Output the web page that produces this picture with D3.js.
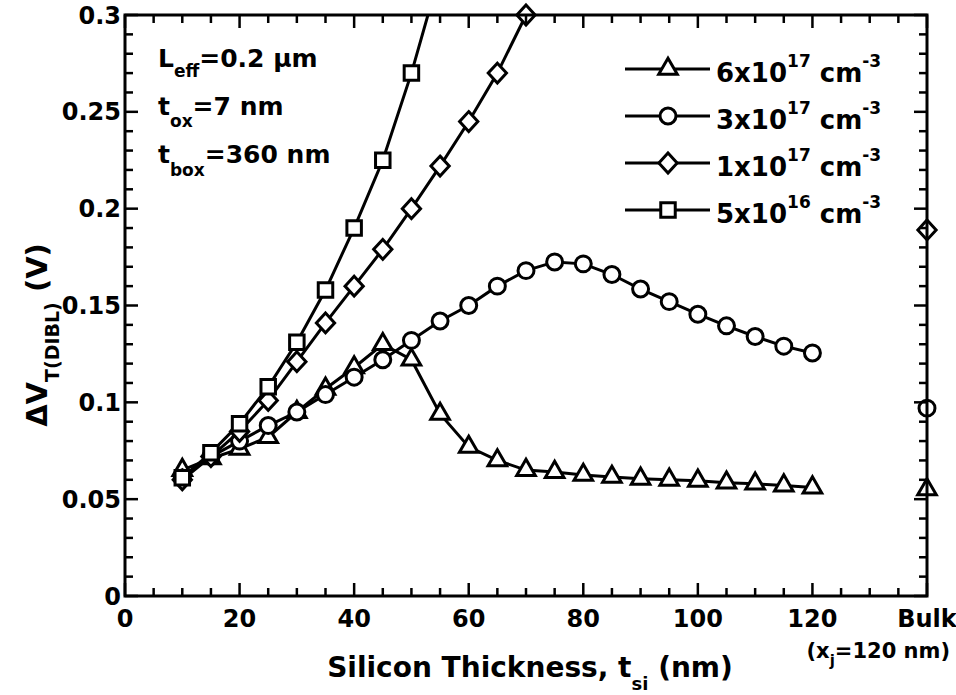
<!DOCTYPE html>
<html><head><meta charset="utf-8">
<script src="https://cdn.jsdelivr.net/npm/d3@7"></script>
<style>
body{margin:0;background:#fff}
svg{display:block}
text{font-family:"DejaVu Sans",sans-serif;font-weight:bold;fill:#000}
</style>
</head><body>
<svg id="c" width="956" height="695"></svg>
<script>
// ---- data ----
const thickness = [10,15,20,25,30,35,40,45,50,55,60,65,70,75,80,85,90,95,100,105,110,115,120];
const dope6e17 = [0.065,0.071,0.076,0.082,0.095,0.107,0.118,0.130,0.122,0.094,0.077,0.070,0.065,0.064,0.0625,0.0615,0.0605,0.060,0.0595,0.0585,0.058,0.057,0.056];
const dope3e17 = [0.061,0.072,0.080,0.088,0.095,0.104,0.113,0.122,0.132,0.142,0.150,0.160,0.168,0.1725,0.1715,0.166,0.1585,0.152,0.1455,0.1395,0.134,0.129,0.1255];
const thickness1e17 = [10,15,20,25,30,35,40,45,50,55,60,65,70];
const dope1e17 = [0.060,0.072,0.085,0.101,0.121,0.141,0.160,0.179,0.200,0.222,0.245,0.270,0.300];
const thickness5e16 = [10,15,20,25,30,35,40,45,50,55];
const dope5e16 = [0.061,0.074,0.089,0.108,0.131,0.158,0.190,0.225,0.270,0.322];
const bulkPosition = 140;
const bulkValues = {tri:0.055, circ:0.097, diam:0.189};
const xTickValues = [0,20,40,60,80,100,120,140];
const xTickLabels = ["0","20","40","60","80","100","120","Bulk"];
const yTickValues = [0,0.05,0.1,0.15,0.2,0.25,0.3];
const yTickLabels = ["0","0.05","0.1","0.15","0.2","0.25","0.3"];
const legendLabels = [["6x10","17"],["3x10","17"],["1x10","17"],["5x10","16"]];

// ---- layout ----
const L=125, R=927, T=15, B=596;
const svg = d3.select("#c");
const x = d3.scaleLinear().domain([0,140]).range([L,R]);
const y = d3.scaleLinear().domain([0,0.3]).range([B,T]);

const minorX = d3.range(5,140,5).filter(v=>v%20!==0);
const minorY = d3.range(1,30,1).filter(v=>v%5!==0).map(v=>v/100);

// clip path kept inside <defs>
svg.append("defs").append("clipPath").attr("id","clip")
  .append("rect").attr("x",L).attr("y",T).attr("width",R-L).attr("height",B-T);

// ---- series ----
const line = d3.line().x(d=>x(d[0])).y(d=>y(d[1]));
const wideDiamond = {draw(ctx,size){const h=Math.sqrt(size)*0.72, w=h*0.92; ctx.moveTo(0,-h);ctx.lineTo(w,0);ctx.lineTo(0,h);ctx.lineTo(-w,0);ctx.closePath();}};
const shapes = {
  tri: d3.symbol().type(d3.symbolTriangle).size(150),
  circ: d3.symbol().type(d3.symbolCircle).size(200),
  diam: d3.symbol().type(wideDiamond).size(190),
  sq: d3.symbol().type(d3.symbolSquare).size(210)
};
const series = [
  {key:"tri", xs:thickness, ys:dope6e17},
  {key:"circ", xs:thickness, ys:dope3e17},
  {key:"diam", xs:thickness1e17, ys:dope1e17},
  {key:"sq", xs:thickness5e16, ys:dope5e16}
];
series.forEach(s=>{
  const pts = s.xs.map((v,i)=>[v,s.ys[i]]);
  svg.append("path").datum(pts).attr("d",line).attr("clip-path","url(#clip)")
    .attr("fill","none").attr("stroke","#000").attr("stroke-width",3);
  svg.append("g").selectAll("path").data(pts.filter(d=>d[1]<=0.3)).join("path")
    .attr("transform",d=>`translate(${x(d[0])},${y(d[1])})`)
    .attr("d",shapes[s.key]()).attr("fill","#fff").attr("stroke","#000").attr("stroke-width",3);
});

// ---- axes: frame, ticks (inward on all four sides), labels ----
svg.append("path").attr("d",`M${L},${T}H${R}V${B}H${L}Z`)
  .attr("fill","none").attr("stroke","#000").attr("stroke-width",3);
function tickSet(vals, len, horiz){
  const g = svg.append("g");
  g.selectAll("line.a").data(vals).join("line").attr("class","a")
    .attr("x1",d=>horiz?x(d):L).attr("x2",d=>horiz?x(d):L+len)
    .attr("y1",d=>horiz?B:y(d)).attr("y2",d=>horiz?B-len:y(d))
    .attr("stroke","#000").attr("stroke-width",2.5);
  g.selectAll("line.b").data(vals).join("line").attr("class","b")
    .attr("x1",d=>horiz?x(d):R).attr("x2",d=>horiz?x(d):R-len)
    .attr("y1",d=>horiz?T:y(d)).attr("y2",d=>horiz?T+len:y(d))
    .attr("stroke","#000").attr("stroke-width",2.5);
}
tickSet(xTickValues,13,true); tickSet(minorX,8,true);
tickSet(yTickValues,13,false); tickSet(minorY,8,false);

svg.append("g").selectAll("text").data(xTickValues).join("text")
  .attr("x",d=>x(d)).attr("y",B+31).attr("text-anchor","middle").style("font-size","24px")
  .text((d,i)=>xTickLabels[i]);
svg.append("g").selectAll("text").data(yTickValues).join("text")
  .attr("x",L-4).attr("y",d=>y(d)).attr("dy","0.36em").attr("text-anchor","end").style("font-size","24px")
  .text((d,i)=>yTickLabels[i]);

// bulk points (drawn over the right axis)
Object.entries(bulkValues).forEach(([k,v])=>{
  svg.append("path").attr("transform",`translate(${x(bulkPosition)},${y(v)})`)
    .attr("d",shapes[k]()).attr("fill","none").attr("stroke","#000").attr("stroke-width",3);
});

// ---- legend ----
const legKeys = ["tri","circ","diam","sq"];
legKeys.forEach((k,i)=>{
  const ly = 69 + i*47;
  svg.append("line").attr("x1",625).attr("x2",710).attr("y1",ly).attr("y2",ly)
    .attr("stroke","#000").attr("stroke-width",3);
  svg.append("path").attr("transform",`translate(668,${ly})`).attr("d",shapes[k]())
    .attr("fill","#fff").attr("stroke","#000").attr("stroke-width",3);
  const t = svg.append("text").attr("x",716).attr("y",ly+13).style("font-size","26px");
  t.append("tspan").text(legendLabels[i][0]);
  t.append("tspan").attr("dy",-15).style("font-size","17px").text(legendLabels[i][1]);
  t.append("tspan").attr("dy",15).text(" cm");
  t.append("tspan").attr("dy",-15).style("font-size","17px").text("-3");
});

// ---- annotations ----
function subText(xp, yp, main, sub, rest, fs, sfs, dy){
  const t = svg.append("text").attr("x",xp).attr("y",yp).style("font-size",fs+"px");
  t.append("tspan").text(main);
  t.append("tspan").attr("dy",dy).style("font-size",sfs+"px").text(sub);
  t.append("tspan").attr("dy",-dy).text(rest);
  return t;
}
subText(158,67,"L","eff","=0.2 µm",25,17,10);
subText(158,115,"t","ox","=7 nm",25,17,12);
subText(158,163,"t","box","=360 nm",25,17,13);

// axis titles
subText(530,677,"Silicon Thickness, t","si"," (nm)",28,18,13).attr("text-anchor","middle");
subText(0,0,"ΔV","T(DIBL)"," (V)",29,19,12).attr("text-anchor","middle")
  .attr("transform","translate(47,335) rotate(-90)");
subText(950,658,"(x","j","=120 nm)",21,15,8).attr("text-anchor","end");
</script>
</body></html>
